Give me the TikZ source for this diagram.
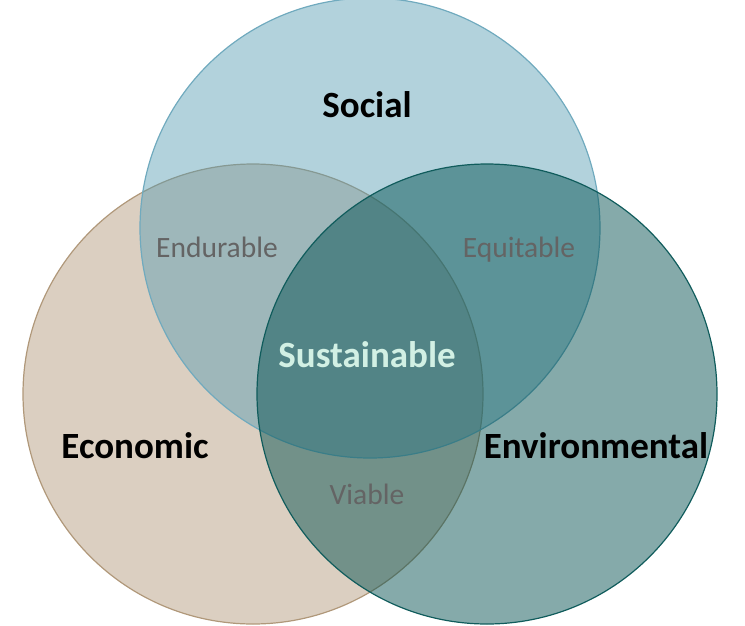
\documentclass[tikz,border=0pt]{standalone}
\usepackage{fontspec}
\setmainfont{Carlito}
\definecolor{econfill}{RGB}{219,207,193}
\definecolor{econline}{RGB}{176,152,122}
\definecolor{socfill}{RGB}{84,155,178}
\definecolor{socline}{RGB}{112,170,190}
\definecolor{envfill}{RGB}{0,78,78}
\definecolor{envline}{RGB}{16,92,92}
\definecolor{subtxt}{RGB}{100,100,100}
\definecolor{centtxt}{RGB}{210,240,228}
\tikzset{
  setcircle/.style={circle, inner sep=0pt, minimum size=460pt, line width=1.2pt},
  mainlabel/.style={font=\fontsize{37}{40}\selectfont\bfseries, text=black, inner sep=0pt, anchor=base},
  sublabel/.style={font=\fontsize{29.5}{32}\selectfont, text=subtxt, inner sep=0pt, anchor=base},
  centlabel/.style={font=\fontsize{37}{40}\selectfont\bfseries, text=centtxt, inner sep=0pt, anchor=base}
}
\begin{document}
\begin{tikzpicture}[x=1pt,y=-1pt]
\useasboundingbox (0,0) rectangle (745,625);
\node[setcircle, fill=econfill, draw=econline] (econ) at (253,394) {};
\node[setcircle, fill=socfill, fill opacity=0.45, draw=socline] (social) at (370,228) {};
\node[setcircle, fill=envfill, fill opacity=0.48, draw=envline] (env) at (487,394) {};
\node[mainlabel] (socialtxt) at (367,117) {Social};
\node[mainlabel] (econtxt) at (135,458) {Economic};
\node[mainlabel] (envtxt) at (596,458) {Environmental};
\node[sublabel] (endur) at (217,257) {Endurable};
\node[sublabel] (equit) at (519,257) {Equitable};
\node[sublabel] (viable) at (367,504) {Viable};
\node[centlabel] (sustain) at (367,367) {Sustainable};
\end{tikzpicture}
\end{document}
